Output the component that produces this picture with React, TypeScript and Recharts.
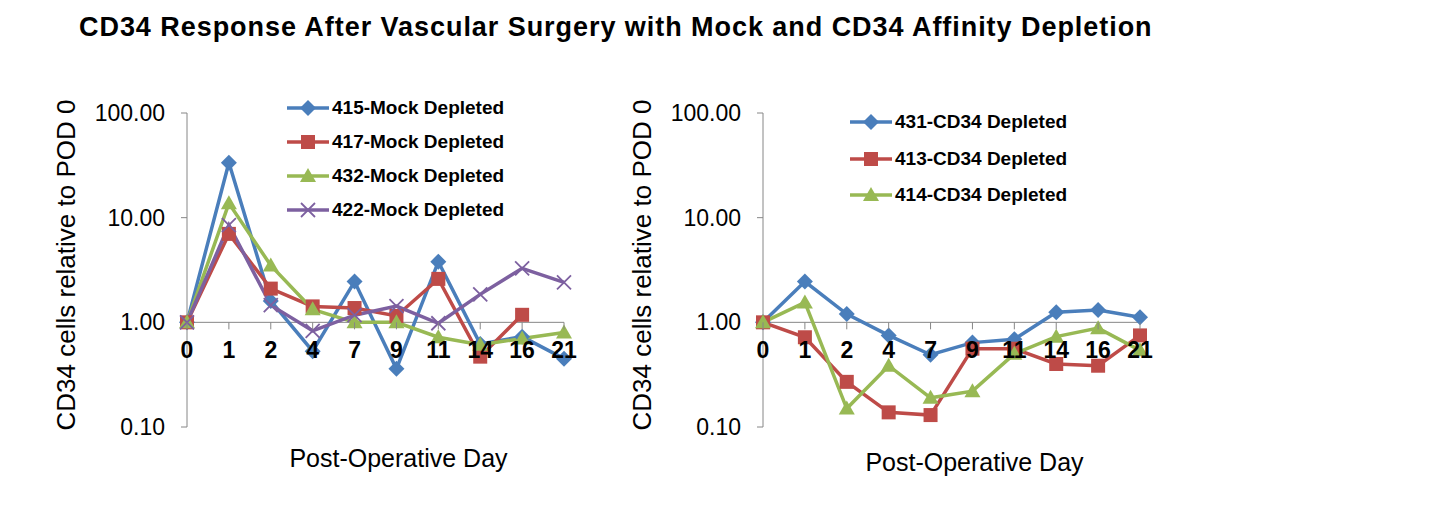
import { LineChart, Line, XAxis, YAxis, ReferenceLine, Legend } from "recharts";

const days = ["0", "1", "2", "4", "7", "9", "11", "14", "16", "21"];

const mock415 = [1, 33.5, 1.6, 0.53, 2.45, 0.36, 3.8, 0.62, 0.73, 0.45];
const mock417 = [1, 7.0, 2.1, 1.42, 1.37, 1.15, 2.6, 0.47, 1.18, null];
const mock432 = [1, 13.7, 3.5, 1.33, 1.0, 1.0, 0.72, 0.61, 0.7, 0.8];
const mock422 = [1, 8.5, 1.46, 0.83, 1.17, 1.43, 0.98, 1.85, 3.28, 2.41];

const cd431 = [1, 2.45, 1.2, 0.75, 0.49, 0.64, 0.69, 1.25, 1.31, 1.12];
const cd413 = [1, 0.72, 0.27, 0.138, 0.13, 0.56, 0.56, 0.4, 0.385, 0.75];
const cd414 = [1, 1.55, 0.15, 0.385, 0.19, 0.22, 0.5, 0.73, 0.88, 0.54];

const yTicks = [0.1, 1, 10, 100];

const BLUE = "#4a7ebb";
const RED = "#be4b48";
const GREEN = "#98b954";
const PURPLE = "#7d60a0";
const AXIS = "#868686";
const FONT = "'Liberation Sans', Arial, sans-serif";

// plot box inside each 600x515 chart
const PLOT_TOP = 113;
const PLOT_H = 314;
const LINE_Y = PLOT_TOP + (PLOT_H * 2) / 3; // where y = 1 sits on the log axis

type Marker = (cx: number, cy: number, color: string) => JSX.Element;

const diamond: Marker = (cx, cy, c) => (
  <polygon points={`${cx},${cy - 8} ${cx + 8},${cy} ${cx},${cy + 8} ${cx - 8},${cy}`} fill={c} />
);
const square: Marker = (cx, cy, c) => <rect x={cx - 7} y={cy - 7} width={14} height={14} fill={c} />;
const triangle: Marker = (cx, cy, c) => (
  <polygon points={`${cx},${cy - 8} ${cx + 8},${cy + 6} ${cx - 8},${cy + 6}`} fill={c} />
);
const cross: Marker = (cx, cy, c) => (
  <g stroke={c} strokeWidth={1.8}>
    <line x1={cx - 7} y1={cy - 7} x2={cx + 7} y2={cy + 7} />
    <line x1={cx - 7} y1={cy + 7} x2={cx + 7} y2={cy - 7} />
  </g>
);

interface Series {
  name: string;
  values: (number | null)[];
  color: string;
  marker: Marker;
}

const mockSeries: Series[] = [
  { name: "415-Mock Depleted", values: mock415, color: BLUE, marker: diamond },
  { name: "417-Mock Depleted", values: mock417, color: RED, marker: square },
  { name: "432-Mock Depleted", values: mock432, color: GREEN, marker: triangle },
  { name: "422-Mock Depleted", values: mock422, color: PURPLE, marker: cross },
];

const cdSeries: Series[] = [
  { name: "431-CD34 Depleted", values: cd431, color: BLUE, marker: diamond },
  { name: "413-CD34 Depleted", values: cd413, color: RED, marker: square },
  { name: "414-CD34 Depleted", values: cd414, color: GREEN, marker: triangle },
];

function DayTick(props: any) {
  const { x, payload } = props;
  return (
    <g>
      <line x1={x} x2={x} y1={LINE_Y} y2={LINE_Y + 7} stroke={AXIS} />
      <text x={x} y={LINE_Y + 28} textAnchor="middle" dominantBaseline="central" fontSize={23} fontWeight={700} fill="#000">
        {payload.value}
      </text>
    </g>
  );
}

interface PanelProps {
  left: number;
  series: Series[];
  legendLeft: number;
  legendTop: number;
  rowH: number;
  xTitleDy: number;
}

function Panel({ left, series, legendLeft, legendTop, rowH, xTitleDy }: PanelProps) {
  const rows = days.map((d, i) => {
    const r: Record<string, any> = { day: d };
    series.forEach((s) => (r[s.name] = s.values[i]));
    return r;
  });

  const legend = () => (
    <div style={{ fontFamily: FONT }}>
      {series.map((s) => (
        <div key={s.name} style={{ display: "flex", alignItems: "center", height: rowH }}>
          <svg width={42} height={20}>
            <line x1={0} x2={42} y1={10} y2={10} stroke={s.color} strokeWidth={3.5} />
            {s.marker(21, 10, s.color)}
          </svg>
          <span style={{ fontWeight: 700, fontSize: 19, marginLeft: 3, color: "#000", whiteSpace: "nowrap" }}>{s.name}</span>
        </div>
      ))}
    </div>
  );

  return (
    <div style={{ position: "absolute", left, top: 0 }}>
      <LineChart width={600} height={515} data={rows} margin={{ top: PLOT_TOP, right: 36, bottom: 28, left: 57 }}>
        <YAxis
          type="number"
          scale="log"
          domain={[0.1, 100]}
          ticks={yTicks}
          allowDataOverflow
          width={130}
          stroke={AXIS}
          tickSize={6}
          tickMargin={16}
          tick={{ fill: "#000", fontSize: 23 }}
          tickFormatter={(v: number) => v.toFixed(2)}
          label={{
            content: (p: any) => {
              const vb = p.viewBox;
              return (
                <text
                  transform={`translate(${vb.x + 9}, ${vb.y + vb.height / 2 - 5}) rotate(-90)`}
                  textAnchor="middle"
                  dominantBaseline="central"
                  fontSize={26}
                  fill="#000"
                >
                  CD34 cells relative to POD 0
                </text>
              );
            },
          }}
        />
        <ReferenceLine y={1} stroke={AXIS} strokeWidth={1} />
        <Legend
          layout="vertical"
          align="center"
          verticalAlign="middle"
          content={legend}
          wrapperStyle={{ position: "absolute", left: legendLeft, top: legendTop, width: "auto", height: "auto" }}
        />
        {series.map((s) => (
          <Line
            key={s.name}
            dataKey={s.name}
            stroke={s.color}
            strokeWidth={3.5}
            isAnimationActive={false}
            dot={(p: any) =>
              p.cx == null || p.cy == null || p.value == null ? (
                <g key={`e${p.index}`} />
              ) : (
                <g key={`d${p.index}`}>{s.marker(p.cx, p.cy, s.color)}</g>
              )
            }
            activeDot={false}
          />
        ))}
        <XAxis
          dataKey="day"
          scale="point"
          padding={{ left: 0, right: 0 }}
          interval={0}
          axisLine={false}
          tickLine={false}
          height={60}
          tick={<DayTick />}
          label={{
            content: (p: any) => {
              const vb = p.viewBox;
              return (
                <text
                  x={vb.x + vb.width / 2 + 23}
                  y={vb.y + xTitleDy}
                  textAnchor="middle"
                  dominantBaseline="central"
                  fontSize={25}
                  fill="#000"
                >
                  Post-Operative Day
                </text>
              );
            },
          }}
        />
      </LineChart>
    </div>
  );
}

export default function App() {
  return (
    <div style={{ position: "absolute", left: 0, top: 0, width: 1439, height: 515, background: "#fff", fontFamily: FONT }}>
      <div
        style={{
          position: "absolute",
          left: 79,
          top: 12,
          fontSize: 27,
          lineHeight: "30px",
          fontWeight: 700,
          letterSpacing: 0.95,
          whiteSpace: "nowrap",
          color: "#000",
        }}
      >
        CD34 Response After Vascular Surgery with Mock and CD34 Affinity Depletion
      </div>
      <Panel left={0} series={mockSeries} legendLeft={287} legendTop={91} rowH={34} xTitleDy={31} />
      <Panel left={576} series={cdSeries} legendLeft={274} legendTop={104} rowH={36.5} xTitleDy={35} />
    </div>
  );
}
